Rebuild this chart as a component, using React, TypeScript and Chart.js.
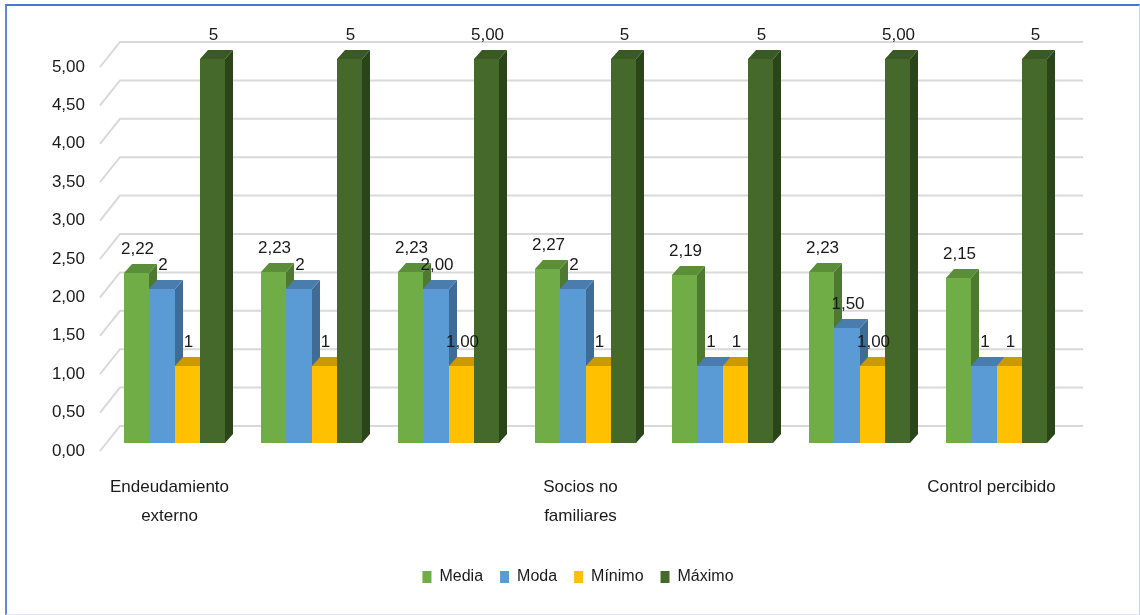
import { useEffect, useRef } from 'react';
import { Chart, registerables } from 'chart.js';

Chart.register(...registerables);

// ---------- data ----------
const categories: (string | string[])[] = [
  ['Endeudamiento', 'externo'],
  '',
  '',
  ['Socios no', 'familiares'],
  '',
  '',
  'Control percibido',
];
const seriesNames = ['Media', 'Moda', 'Mínimo', 'Máximo'];
const media = [2.22, 2.23, 2.23, 2.27, 2.19, 2.23, 2.15];
const moda = [2, 2, 2, 2, 1, 1.5, 1];
const minimo = [1, 1, 1, 1, 1, 1, 1];
const maximo = [5, 5, 5, 5, 5, 5, 5];
// decimals shown in each data label (per series, per category)
const mediaDecimals = [2, 2, 2, 2, 2, 2, 2];
const otherDecimals = [0, 0, 2, 0, 0, 2, 0];
const yMin = 0;
const yMax = 5;
const yStep = 0.5;

// ---------- styles ----------
const FONT = "'Liberation Sans Narrow', 'Liberation Sans', Arial, sans-serif";
const TEXT = '#1a1a1a';
const seriesColors = [
  { front: '#70AD47', top: '#5A8E38', side: '#4D7A30' },
  { front: '#5B9BD5', top: '#4A7DAD', side: '#3F6C97' },
  { front: '#FFC000', top: '#CC9A00', side: '#B38700' },
  { front: '#44692B', top: '#395A22', side: '#2B451A' },
];
const DX = 8;
const DY = 9;

const fmt = (v: number, d: number) => v.toFixed(d).replace('.', ',');

const bars3d = {
  id: 'bars3d',
  beforeDatasetsDraw(chart: any) {
    const { ctx, chartArea } = chart;
    const ys = chart.scales.y;
    ctx.save();
    ctx.strokeStyle = '#D9D9D9';
    ctx.lineWidth = 2;
    for (const t of ys.ticks) {
      const y = ys.getPixelForValue(t.value);
      ctx.beginPath();
      ctx.moveTo(chartArea.left - 6, y + 8);
      ctx.lineTo(chartArea.left + 14, y - 17);
      ctx.lineTo(chartArea.right + 18, y - 17);
      ctx.stroke();
    }
    ctx.restore();
  },
  beforeDatasetDraw() {
    return false;
  },
  afterDatasetsDraw(chart: any) {
    const { ctx } = chart;
    const n = chart.data.labels.length;
    const nd = chart.data.datasets.length;
    ctx.save();
    const labels: { x: number; y: number; text: string }[] = [];
    for (let i = 0; i < n; i++) {
      for (let d = 0; d < nd; d++) {
        const meta = chart.getDatasetMeta(d);
        const el = meta.data[i];
        if (!el) continue;
        const p = el.getProps(['x', 'y', 'base', 'width'], true);
        const left = Math.round(p.x - p.width / 2);
        const right = Math.round(p.x + p.width / 2);
        const top = Math.round(p.y);
        const bottom = Math.round(p.base);
        const c = seriesColors[d];
        // side face
        ctx.fillStyle = c.side;
        ctx.beginPath();
        ctx.moveTo(right, top);
        ctx.lineTo(right + DX, top - DY);
        ctx.lineTo(right + DX, bottom - DY);
        ctx.lineTo(right, bottom);
        ctx.closePath();
        ctx.fill();
        // top face
        ctx.fillStyle = c.top;
        ctx.beginPath();
        ctx.moveTo(left, top);
        ctx.lineTo(left + DX, top - DY);
        ctx.lineTo(right + DX, top - DY);
        ctx.lineTo(right, top);
        ctx.closePath();
        ctx.fill();
        // front face
        ctx.fillStyle = c.front;
        ctx.fillRect(left, top, right - left, bottom - top);
        const value = chart.data.datasets[d].data[i];
        const dec = chart.data.datasets[d].labelDecimals[i];
        labels.push({ x: (left + right) / 2 + 1, y: top - 24, text: fmt(value, dec) });
      }
    }
    ctx.fillStyle = TEXT;
    ctx.font = `17px ${FONT}`;
    ctx.textAlign = 'center';
    ctx.textBaseline = 'middle';
    for (const l of labels) ctx.fillText(l.text, l.x, l.y);
    ctx.restore();
  },
};

export default function App() {
  const ref = useRef<HTMLCanvasElement | null>(null);

  useEffect(() => {
    if (!ref.current) return;
    const values = [media, moda, minimo, maximo];
    const decs = [mediaDecimals, otherDecimals, otherDecimals, otherDecimals];
    const chart = new Chart(ref.current, {
      type: 'bar',
      data: {
        labels: categories,
        datasets: seriesNames.map((name, i) => ({
          label: name,
          data: values[i],
          labelDecimals: decs[i],
          backgroundColor: seriesColors[i].front,
          borderWidth: 0,
          categoryPercentage: 0.73,
          barPercentage: 1,
        })) as any,
      },
      options: {
        responsive: false,
        animation: false,
        layout: { padding: { left: 0, right: -16, top: 59, bottom: 20 } },
        plugins: {
          tooltip: { enabled: false },
          legend: {
            position: 'bottom',
            labels: {
              boxWidth: 9,
              boxHeight: 12,
              padding: 17,
              color: TEXT,
              font: { family: FONT, size: 16 },
            },
          },
        },
        scales: {
          x: {
            grid: { display: false, drawTicks: false },
            border: { display: false },
            ticks: {
              autoSkip: false,
              maxRotation: 0,
              minRotation: 0,
              padding: 29,
              labelOffset: -5,
              color: TEXT,
              font: { family: FONT, size: 17, lineHeight: 1.75 },
            },
            afterFit: (s: any) => {
              s.height = 109;
            },
          },
          y: {
            position: 'left',
            min: yMin,
            max: yMax,
            grid: { display: false, drawTicks: false },
            border: { display: false },
            ticks: {
              stepSize: yStep,
              padding: 21,
              labelOffset: 8,
              color: TEXT,
              font: { family: FONT, size: 17 },
              callback: (v: any) => fmt(Number(v), 2),
            },
            afterFit: (s: any) => {
              s.width = 106;
            },
          },
          yRightSpace: {
            type: 'linear',
            position: 'right',
            grid: { display: false, drawTicks: false },
            border: { display: false },
            ticks: { display: false },
            afterFit: (s: any) => {
              s.width = 91;
            },
          },
        },
      } as any,
      plugins: [bars3d],
    });
    return () => chart.destroy();
  }, []);

  return (
    <div style={{ position: 'fixed', left: 0, top: 0, width: 1140, height: 615, background: '#fff' }}>
      <canvas ref={ref} width={1140} height={615} style={{ display: 'block' }} />
      <div
        style={{
          position: 'absolute',
          left: 5,
          top: 4,
          width: 1135,
          height: 611,
          boxSizing: 'border-box',
          borderTop: '2px solid #4A78D0',
          borderLeft: '2px solid #5A89E0',
          borderRight: '1px solid #C5D3F0',
          borderBottom: '1px solid #E3E6F8',
          pointerEvents: 'none',
        }}
      />
    </div>
  );
}
